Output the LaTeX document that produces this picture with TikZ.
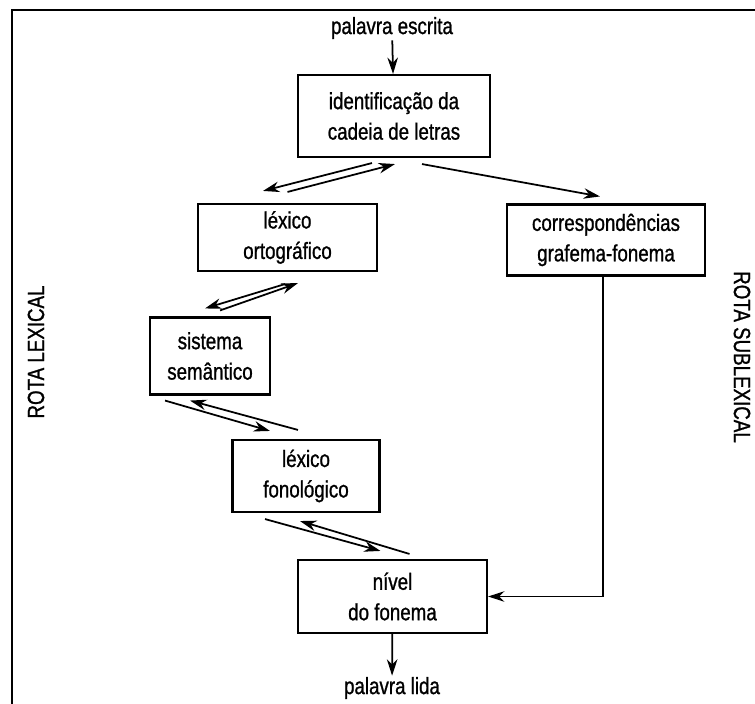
\documentclass[tikz,border=0pt]{standalone}
\usepackage{fontspec}
\setmainfont{Liberation Sans}[FakeStretch=0.8, FakeBold=1]
\usetikzlibrary{arrows.meta, positioning, calc}

\begin{document}
\begin{tikzpicture}[x=0.03cm, y=-0.03cm, >={Stealth[length=14pt,width=9pt]}]
  \tikzstyle{stage} = [rectangle, draw, line width=1.8pt, align=center, inner sep=2pt, font=\fontsize{20}{26}\selectfont]
  \tikzstyle{label} = [font=\fontsize{20}{26}\selectfont, inner sep=1pt]
  \tikzstyle{route} = [font=\fontsize{20}{26}\selectfont, inner sep=1pt]
  \tikzstyle{link} = [->, line width=1.5pt]

  \useasboundingbox (0,0) rectangle (755,704);
  \draw[line width=2pt] (755,10) -- (12,10) -- (12,704);

  \node [label] (in) at (392,28) {palavra escrita};
  \node [stage, minimum width=5.76cm, minimum height=2.46cm] (cadeia) at (394,116) {identificação da\\cadeia de letras};
  \node [stage, minimum width=5.37cm, minimum height=2.01cm] (lexorto) at (287.5,237.5) {léxico\\ortográfico};
  \node [stage, minimum width=5.94cm, minimum height=2.13cm] (grafema) at (606,240) {correspondências\\grafema-fonema};
  \node [stage, minimum width=3.6cm, minimum height=2.31cm] (semant) at (210,356) {sistema\\semântico};
  \node [stage, minimum width=4.41cm, minimum height=2.16cm] (lexfono) at (306,476) {léxico\\fonológico};
  \node [stage, minimum width=5.67cm, minimum height=2.19cm] (fonema) at (392.5,596.5) {nível\\do fonema};
  \node [label] (out) at (392,688) {palavra lida};

  \node [route, rotate=90] (lexical) at (36,352) {ROTA LEXICAL};
  \node [route, rotate=-90] (sublexical) at (742,357) {ROTA SUBLEXICAL};

  \draw[link] (in) -- (cadeia);
  \draw[link] (fonema) -- (out);

  % lexical route
  \draw[link] ($(cadeia.south)+(-22,5)$) -- ($(lexorto.north)+(-24.5,-12)$);
  \draw[link] ($(lexorto.north)+(0,-11)$) -- ($(cadeia.south)+(1,6)$);
  \draw[link] ($(lexorto.south)+(-2.5,12)$) -- ($(semant.north)+(-5,-8)$);
  \draw[link] ($(semant.north)+(10,-6)$) -- ($(lexorto.south)+(10.5,11)$);
  \draw[link] ($(semant.south)+(-45,5)$) -- ($(lexfono.north)+(-36,-8)$);
  \draw[link] ($(lexfono.north)+(-8,-9)$) -- ($(semant.south)+(-20,5)$);
  \draw[link] ($(lexfono.south)+(-41,6)$) -- ($(fonema.north)+(-12,-8)$);
  \draw[link] ($(fonema.north)+(17,-5)$) -- ($(lexfono.south)+(-6,8)$);

  % sublexical route
  \draw[link] ($(cadeia.south)+(28,6)$) -- ($(grafema.north)+(-6,-7)$);
  \draw[link] ($(grafema.south)+(-3,0)$) |- (fonema.east);
\end{tikzpicture}
\end{document}
